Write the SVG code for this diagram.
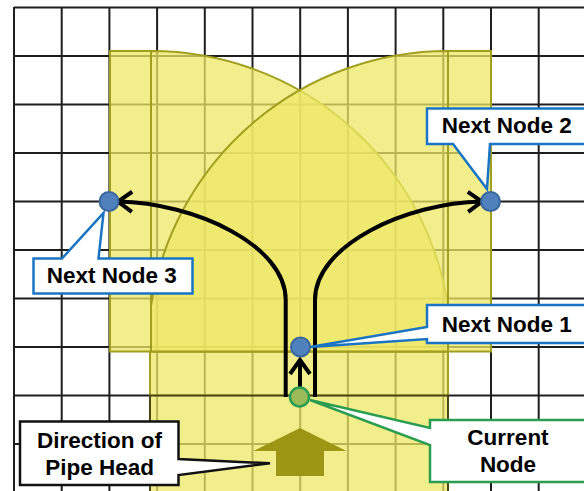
<svg xmlns="http://www.w3.org/2000/svg" width="584" height="491" viewBox="0 0 584 491">
  <defs>
    <style>
      .grid { fill: none; stroke: #1e1e1e; stroke-width: 2; }
      .zone { fill: #EEE866; fill-opacity: 0.75; stroke: #A29E1E; stroke-width: 2; }
      .zone-edge { fill: none; stroke: #4A4712; stroke-width: 2; }
      .path-line { fill: none; stroke: #000; stroke-width: 4; }
      .node-blue { fill: #4F81BD; stroke: #3A679C; stroke-width: 2; }
      .node-green { fill: #9BBB59; stroke: #2A9D50; stroke-width: 2.5; }
      .callout { fill: #fff; stroke-width: 2.5; stroke-linejoin: miter; }
      .callout-blue { stroke: #1A74C4; }
      .callout-green { stroke: #2A9D50; }
      .callout-black { stroke: #111; }
      .label { font-family: "Liberation Sans", Arial, sans-serif; font-weight: bold; font-size: 22.5px; fill: #000; }
      .head { fill: #9C9614; }
    </style>
    <marker id="chevron" markerUnits="userSpaceOnUse" markerWidth="40" markerHeight="40"
            viewBox="-20 -20 40 40" refX="0" refY="0" orient="auto" overflow="visible">
      <path d="M-14,-10 L0,0 L-14,10" fill="none" stroke="#000" stroke-width="4"/>
    </marker>
  </defs>

  <rect width="584" height="491" fill="#fff"/>

  <!-- square grid -->
  <g id="grid">
    <path class="grid" d="M14,7 V491 M61.7,7 V491 M109.4,7 V491 M157.1,7 V491 M204.8,7 V491 M252.5,7 V491 M300.2,7 V491 M347.9,7 V491 M395.6,7 V491 M443.3,7 V491 M491,7 V491 M538.7,7 V491
      M14,7.5 H584 M14,56 H584 M14,104.5 H584 M14,153 H584 M14,201.5 H584 M14,250 H584 M14,298.5 H584 M14,347 H584 M14,395.5 H584 M14,444 H584"/>
  </g>

  <!-- search zones -->
  <g id="zones">
    <rect class="zone" x="110" y="51" width="41" height="300.5"/>
    <rect class="zone" x="448" y="51" width="43" height="300.5"/>
    <rect class="zone" x="150" y="351.5" width="298" height="145"/>
    <path class="zone" d="M151,351.5 V51 A300.5,300.5 0 0 1 448,305.8 V351.5 Z"/>
    <path class="zone" d="M448,351.5 V51 A300.5,300.5 0 0 0 151,305.8 V351.5 Z"/>
    <rect class="zone-edge" x="150" y="395.5" width="298" height="100"/>
  </g>

  <!-- connectors -->
  <g id="connectors">
    <path class="path-line" d="M285.7,397 V300 C285.7,245 195,203 118,201.5" marker-end="url(#chevron)"/>
    <path class="path-line" d="M315,397 V300 C315,245 405.7,203 482,201.5" marker-end="url(#chevron)"/>
    <path class="path-line" d="M300,388 V360" marker-end="url(#chevron)"/>
  </g>

  <!-- heading arrow -->
  <g id="pipe-head-arrow">
    <polygon class="head" points="300,428 346.5,451 324,451 324,476 276,476 276,451 253.5,451"/>
  </g>

  <!-- callouts -->
  <g id="callout-next2">
    <path class="callout callout-blue" d="M427,108.5 H594 V144 H490 L487,189 L453,144 H427 Z"/>
    <text class="label" x="441.7" y="133">Next Node 2</text>
  </g>
  <g id="callout-next3">
    <path class="callout callout-blue" d="M33.5,258.5 H62 L103.5,213 L98.5,258.5 H192.5 V293.5 H33.5 Z"/>
    <text class="label" x="46.7" y="283.3">Next Node 3</text>
  </g>
  <g id="callout-next1">
    <path class="callout callout-blue" d="M427,305 H594 V343 H427 V339 L310,347 L427,327 Z"/>
    <text class="label" x="441.7" y="331.7">Next Node 1</text>
  </g>
  <g id="callout-current">
    <path class="callout callout-green" d="M430,420 H594 V482 H430 V445 L310,400 L430,428 Z"/>
    <text class="label" x="508" y="445" text-anchor="middle">Current</text>
    <text class="label" x="508" y="471.7" text-anchor="middle">Node</text>
  </g>
  <g id="callout-direction">
    <path class="callout callout-black" d="M20,421.5 H178.5 V459 L270,463.3 L178.5,475 V485 H20 Z"/>
    <text class="label" x="99.6" y="447.7" text-anchor="middle">Direction of</text>
    <text class="label" x="99.6" y="475" text-anchor="middle">Pipe Head</text>
  </g>

  <!-- nodes -->
  <g id="node-next3"><circle class="node-blue" cx="109" cy="201.5" r="9.5"/></g>
  <g id="node-next2"><circle class="node-blue" cx="490.5" cy="201.5" r="9.5"/></g>
  <g id="node-next1"><circle class="node-blue" cx="300.5" cy="347" r="9.5"/></g>
  <g id="node-current"><circle class="node-green" cx="299.5" cy="397" r="9.5"/></g>
</svg>
